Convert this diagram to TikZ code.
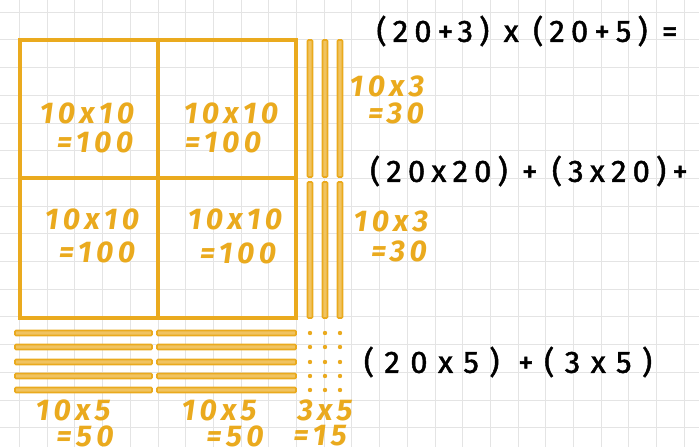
\documentclass[tikz,border=0pt]{standalone}
\usepackage{fontspec}
\setmainfont{Fira Sans}
\usetikzlibrary{positioning}
\definecolor{rodorange}{RGB}{234,170,30}
\definecolor{gridgray}{RGB}{228,228,228}

\begin{document}
\begin{tikzpicture}[x=1pt,y=-1pt,
  rod/.style={draw=rodorange,line width=1.6pt,fill=rodorange!70,rounded corners=1pt},
  lbl/.style={text=rodorange,font=\fontsize{30}{32}\selectfont\bfseries\itshape\addfontfeature{LetterSpace=15},inner sep=0pt},
  eqn/.style={font=\fontsize{31}{33}\selectfont\addfontfeature{LetterSpace=20,FakeBold=1.5},inner sep=0pt},
  wideeqn/.style={eqn,font=\fontsize{31}{33}\selectfont\addfontfeature{LetterSpace=34,FakeBold=1.5}}]

\useasboundingbox (0,0) rectangle (699,447);
\fill[white] (0,0) rectangle (699,447);

% squared paper
\foreach \k in {0,...,25}
{
\draw[gridgray,line width=0.6pt] ({19.3+27.7*\k},0)--({19.3+27.7*\k},447);
}
\foreach \k in {0,...,15}
{
\draw[gridgray,line width=0.6pt] (0,{12+27.7*\k})--(699,{12+27.7*\k});
}

% four flats of one hundred
\draw[rodorange,line width=3.2pt] (20,40) rectangle (296,318);
\draw[rodorange,line width=3.2pt] (158,40)--(158,318);
\draw[rodorange,line width=3.2pt] (20,178)--(296,178);

% rods of ten, standing
\foreach \x in {310,325,340}
{
\draw[rod] (\x-2.5,40) rectangle (\x+2.5,177);
\draw[rod] (\x-2.5,182) rectangle (\x+2.5,318);
}

% rods of ten, lying, and the units
\foreach \y in {333,347,362,376,390}
{
\draw[rod] (15,\y-2.5) rectangle (152,\y+2.5);
\draw[rod] (157,\y-2.5) rectangle (296,\y+2.5);
\foreach \x in {310,325,340}
{
\fill[rodorange] (\x,\y) circle (2.2pt);
}
}

% labels of the flats
\node[lbl] (tlTop) at (87,113) {10x10};
\node[lbl] (tlBot) at (95,142) {=100};
\node[lbl] (trTop) at (231,113) {10x10};
\node[lbl] (trBot) at (223,142) {=100};
\node[lbl] (blTop) at (92,219) {10x10};
\node[lbl] (blBot) at (97,252) {=100};
\node[lbl] (brTop) at (235,219) {10x10};
\node[lbl] (brBot) at (238,253) {=100};

% labels of the rods
\node[lbl] (upTop) at (387,86) {10x3};
\node[lbl] (upBot) at (396,113) {=30};
\node[lbl] (loTop) at (391,221) {10x3};
\node[lbl] (loBot) at (399,251) {=30};
\node[lbl] (leftTop) at (73,410) {10x5};
\node[lbl] (leftBot) at (85,436) {=50};
\node[lbl] (midTop) at (219,410) {10x5};
\node[lbl] (midBot) at (235,436) {=50};
\node[lbl] (unitTop) at (325,410) {3x5};
\node[lbl] (unitBot) at (320,436) {=15};

% the sums
\node[eqn] (sumA) at (527,31) {(20+3) x (20+5) =};
\node[eqn] (sumB) at (529,171) {(20x20) + (3x20)+};
\node[wideeqn] (sumC) at (508,362) {(20x5) +(3x5)};

\end{tikzpicture}
\end{document}
